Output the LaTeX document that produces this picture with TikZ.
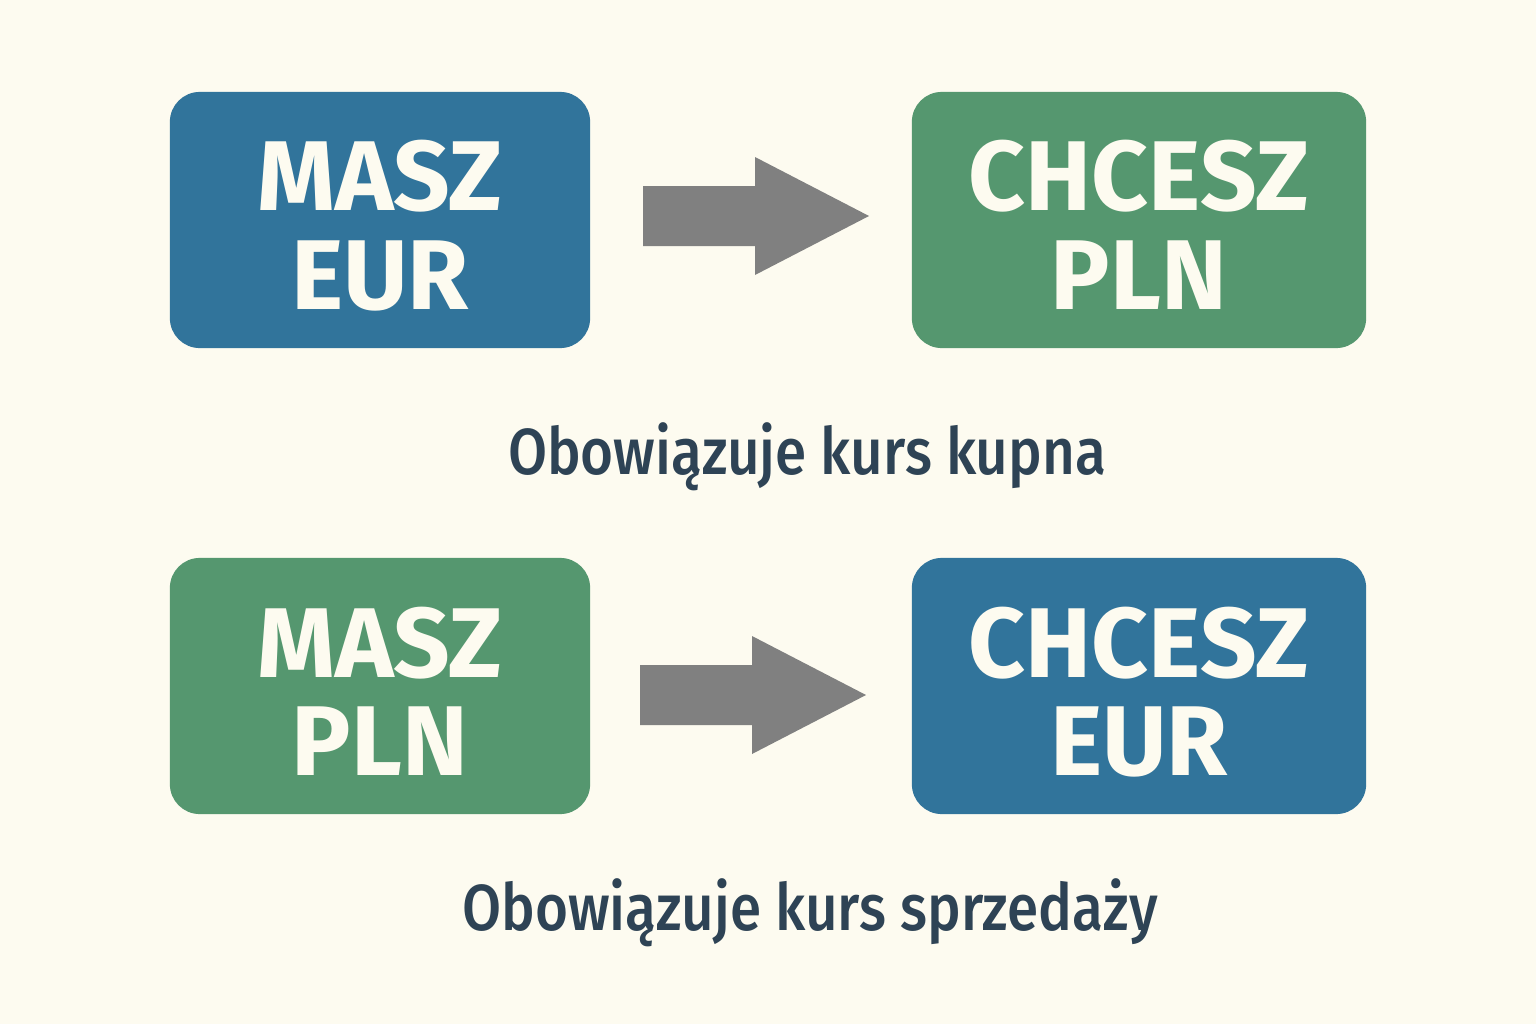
\documentclass[tikz,border=0pt]{standalone}
\usepackage{fontspec}
\setmainfont{Fira Sans}
\newfontfamily\notefont[FakeStretch=0.87]{Fira Sans Medium}
\usetikzlibrary{positioning}
\definecolor{bgcream}{HTML}{FDFBF0}
\definecolor{boxblue}{HTML}{31749B}
\definecolor{boxgreen}{HTML}{55976F}
\definecolor{arrowgrey}{HTML}{808080}
\definecolor{captionink}{HTML}{2E4355}
\newcommand\twolines[2]{\begin{tabular}[t]{@{}c@{}}#1\\#2\end{tabular}}
\begin{document}
\begin{tikzpicture}[x=0.01cm,y=-0.01cm,
    curbox/.style={rounded corners=8.5pt,minimum height=2.56cm,
      text height=0.8cm,text depth=0.98cm,
      text=bgcream,font=\fontsize{28.2}{27.8}\selectfont\bfseries},
    leftbox/.style={curbox,minimum width=4.2cm},
    rightbox/.style={curbox,minimum width=4.54cm},
    swaparrow/.style={fill=arrowgrey},
    ratenote/.style={text=captionink,anchor=base,font=\notefont\fontsize{18.5}{20}\selectfont},
  ]
\fill[bgcream] (0,0) rectangle (1536,1024);
\useasboundingbox (0,0) rectangle (1536,1024);
\node[leftbox,fill=boxblue] (haveEUR) at (380,220) {\twolines{MASZ}{EUR}};
\node[rightbox,fill=boxgreen] (wantPLN) at (1139,220) {\twolines{CHCESZ}{PLN}};
\node[ratenote] (buyRate) at (807,474) {Obowiązuje kurs kupna};
\node[leftbox,fill=boxgreen] (havePLN) at (380,686) {\twolines{MASZ}{PLN}};
\node[rightbox,fill=boxblue] (wantEUR) at (1139,686) {\twolines{CHCESZ}{EUR}};
\node[ratenote] (sellRate) at (810,930) {Obowiązuje kurs sprzedaży};
\coordinate (swapA) at (643,216);
\coordinate (swapB) at (640,695);
\fill[swaparrow] (swapA) ++(0,-30) -- ++(112,0) -- ++(0,-29) -- ++(114,59)
  -- ++(-114,59) -- ++(0,-29) -- ++(-112,0) -- cycle;
\fill[swaparrow] (swapB) ++(0,-30) -- ++(112,0) -- ++(0,-29) -- ++(114,59)
  -- ++(-114,59) -- ++(0,-29) -- ++(-112,0) -- cycle;
\end{tikzpicture}
\end{document}
